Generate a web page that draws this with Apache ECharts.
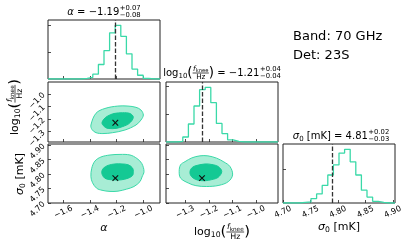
<!DOCTYPE html>
<html><head><meta charset="utf-8">
<script src="https://cdn.jsdelivr.net/npm/echarts@6/dist/echarts.min.js"></script>
<style>html,body{margin:0;padding:0;background:#fff}#c{width:411px;height:246px}</style>
</head><body><div id="c"></div>
<script>
// ---------- data ----------
const alphaRange = [-1.715, -0.875];
const fkneeRange = [-1.382, -0.906];
const sigmaRange = [4.700, 4.904];
const alphaTicks = [-1.6, -1.4, -1.2, -1.0];
const fkneeTicks = [-1.3, -1.2, -1.1, -1.0];
const sigmaTicks = [4.70, 4.75, 4.80, 4.85, 4.90];
const countTicks = [1000, 2000];
const alphaCounts = [0,0,0,0,0,0,20,60,180,540,1060,1720,2000,1590,940,370,140,25,0,0];
const fkneeCounts = [0,0,20,180,650,1300,1890,1970,1420,670,305,80,20,0,0,0,0,0,0,0];
const sigmaCounts = [0,0,0,16,32,130,270,520,830,1130,1480,1590,1220,830,380,175,50,16,0,0];
const alphaMark = -1.21, fkneeMark = -1.229, sigmaMark = 4.786;
const alphaTitle = ['\u22121.19', '+0.07', '\u22120.08'];
const fkneeTitle = ['\u22121.21', '+0.04', '\u22120.04'];
const sigmaTitle = ['4.81', '+0.02', '\u22120.03'];
const bandText = 'Band: 70 GHz';
const detText = 'Det: 23S';
// contours (outer 2-sigma, inner 1-sigma)
const afOuter = [[-1.393,-1.247],[-1.355,-1.154],[-1.288,-1.116],[-1.192,-1.097],[-1.115,-1.097],[-1.055,-1.107],[-1.018,-1.128],[-1.000,-1.168],[-1.018,-1.208],[-1.055,-1.247],[-1.138,-1.287],[-1.230,-1.308],[-1.303,-1.315],[-1.355,-1.308],[-1.385,-1.283]];
const afInner = [[-1.310,-1.234],[-1.295,-1.200],[-1.267,-1.176],[-1.220,-1.156],[-1.155,-1.150],[-1.100,-1.156],[-1.075,-1.186],[-1.105,-1.234],[-1.153,-1.259],[-1.205,-1.274],[-1.258,-1.275],[-1.285,-1.266]];
const asOuter = [[-1.387,4.820],[-1.363,4.845],[-1.318,4.859],[-1.250,4.866],[-1.175,4.868],[-1.100,4.866],[-1.048,4.854],[-1.012,4.837],[-0.995,4.809],[-1.010,4.790],[-1.025,4.774],[-1.070,4.757],[-1.125,4.748],[-1.190,4.741],[-1.250,4.740],[-1.310,4.744],[-1.350,4.751],[-1.381,4.770],[-1.393,4.791]];
const asInner = [[-1.312,4.806],[-1.300,4.820],[-1.265,4.830],[-1.213,4.835],[-1.160,4.835],[-1.113,4.832],[-1.081,4.821],[-1.075,4.809],[-1.081,4.795],[-1.113,4.786],[-1.168,4.780],[-1.225,4.780],[-1.276,4.783],[-1.300,4.791]];
const fsOuter = [[-1.326,4.809],[-1.320,4.832],[-1.301,4.843],[-1.272,4.856],[-1.238,4.863],[-1.204,4.863],[-1.167,4.855],[-1.136,4.842],[-1.110,4.826],[-1.099,4.797],[-1.117,4.774],[-1.157,4.761],[-1.209,4.757],[-1.255,4.760],[-1.287,4.769],[-1.320,4.786]];
const fsInner = [[-1.280,4.809],[-1.274,4.820],[-1.259,4.828],[-1.216,4.835],[-1.187,4.833],[-1.160,4.826],[-1.145,4.809],[-1.160,4.789],[-1.187,4.781],[-1.216,4.777],[-1.246,4.779],[-1.266,4.786],[-1.278,4.797]];

// ---------- styling ----------
const LINE = '#3ad9a8', OUTER = '#a8edd5', INNER = '#14c994', AX = '#222';
const FF = '"DejaVu Sans"';
const fmt = (v, d) => (v < 0 ? '\u2212' : '') + Math.abs(v).toFixed(d);

const panels = [ // left, top, width, height
  [48, 20, 112, 59],   // 0 alpha hist
  [48, 82, 112, 60],   // 1 alpha-fknee
  [166, 82, 112, 60],  // 2 fknee hist
  [48, 144, 112, 59],  // 3 alpha-sigma
  [166, 144, 112, 59], // 4 fknee-sigma
  [283, 144, 112, 59]  // 5 sigma hist
];
const grid = panels.map(p => ({left: p[0], top: p[1], width: p[2], height: p[3], show: true,
  borderColor: AX, borderWidth: 1, containLabel: false, outerBoundsMode: 'none'}));

function xAx(gi, range, ticks, lab, d) {
  return {type: 'value', gridIndex: gi, min: range[0], max: range[1],
    axisLine: {show: false}, splitLine: {show: false},
    axisTick: {show: true, inside: true, length: 3, lineStyle: {color: AX, width: 0.8}, customValues: ticks},
    axisLabel: {show: lab, customValues: ticks, rotate: 25, fontSize: 8, color: '#000', fontFamily: 'DejaVu Sans',
      margin: 9, align: 'center', verticalAlign: 'middle', formatter: v => fmt(v, d)}};
}
function yAx(gi, range, ticks, lab, d) {
  return {type: 'value', gridIndex: gi, min: range[0], max: range[1],
    axisLine: {show: false}, splitLine: {show: false},
    axisTick: {show: true, inside: true, length: 3, lineStyle: {color: AX, width: 0.8}, customValues: ticks},
    axisLabel: {show: lab, customValues: ticks, rotate: 45, fontSize: 8, color: '#000', fontFamily: 'DejaVu Sans',
      margin: 4, formatter: v => fmt(v, d)}};
}
const hmax = c => [0, Math.max.apply(null, c) * 1.1];

const xAxis = [
  xAx(0, alphaRange, alphaTicks, false, 1),
  xAx(1, alphaRange, alphaTicks, false, 1),
  xAx(2, fkneeRange, fkneeTicks, false, 1),
  xAx(3, alphaRange, alphaTicks, true, 1),
  xAx(4, fkneeRange, fkneeTicks, true, 1),
  xAx(5, sigmaRange, sigmaTicks, true, 2)
];
const yAxis = [
  yAx(0, hmax(alphaCounts), countTicks, false, 0),
  yAx(1, fkneeRange, fkneeTicks, true, 1),
  yAx(2, hmax(fkneeCounts), countTicks, false, 0),
  yAx(3, sigmaRange, sigmaTicks, true, 2),
  yAx(4, sigmaRange, sigmaTicks, false, 2),
  yAx(5, hmax(sigmaCounts), countTicks, false, 0)
];

function histSeries(gi, range, counts, mark) {
  const n = counts.length, w = (range[1] - range[0]) / n;
  const data = counts.map((c, i) => [range[0] + i * w, c]);
  data.push([range[1], counts[n - 1]]);
  return {type: 'line', xAxisIndex: gi, yAxisIndex: gi, step: 'end', data, symbol: 'none',
    lineStyle: {color: LINE, width: 1.3}, silent: true,
    markLine: {symbol: ['none', 'none'], silent: true, label: {show: false},
      lineStyle: {color: '#333', width: 1.3, type: [4.5, 2]}, data: [{xAxis: mark}]}};
}
function polySeries(gi, pts, fill, stroke) {
  return {type: 'custom', xAxisIndex: gi, yAxisIndex: gi, data: pts, silent: true,
    renderItem: (params, api) => {
      if (params.dataIndex !== 0) return null;
      return {type: 'polygon', shape: {points: pts.map(p => api.coord(p)), smooth: 0.35},
        style: {fill: fill, stroke: stroke, lineWidth: 1}};
    }};
}
function crossSeries(gi, pt) {
  return {type: 'custom', xAxisIndex: gi, yAxisIndex: gi, data: [pt], silent: true, z: 5,
    renderItem: (params, api) => {
      const c = api.coord([api.value(0), api.value(1)]), r = 2.8;
      const st = {stroke: '#111', lineWidth: 1.1};
      return {type: 'group', children: [
        {type: 'line', shape: {x1: c[0] - r, y1: c[1] - r, x2: c[0] + r, y2: c[1] + r}, style: st},
        {type: 'line', shape: {x1: c[0] - r, y1: c[1] + r, x2: c[0] + r, y2: c[1] - r}, style: st}]};
    }};
}

const series = [
  histSeries(0, alphaRange, alphaCounts, alphaMark),
  histSeries(2, fkneeRange, fkneeCounts, fkneeMark),
  histSeries(5, sigmaRange, sigmaCounts, sigmaMark),
  polySeries(1, afOuter, OUTER, LINE), polySeries(1, afInner, INNER, INNER),
  polySeries(3, asOuter, OUTER, LINE), polySeries(3, asInner, INNER, INNER),
  polySeries(4, fsOuter, OUTER, LINE), polySeries(4, fsInner, INNER, INNER),
  crossSeries(1, [alphaMark, fkneeMark]),
  crossSeries(3, [alphaMark, sigmaMark]),
  crossSeries(4, [fkneeMark, sigmaMark])
];

// ---------- math text via graphic ----------
const mctx = document.createElement('canvas').getContext('2d');
const fnt = (s, it) => (it ? 'italic ' : '') + s + 'px ' + FF;
const tw = (t, f) => { mctx.font = f; return mctx.measureText(t).width; };
function layout(tokens) {
  let x = 0; const items = [], lines = [];
  tokens.forEach(tk => {
    if (tk.num) {
      const n = layout(tk.num), d = layout(tk.den);
      const w = Math.max(n.w, d.w) + 1;
      n.items.forEach(it => items.push(Object.assign({}, it, {x: it.x + x + (w - n.w) / 2, y: it.y - tk.up})));
      d.items.forEach(it => items.push(Object.assign({}, it, {x: it.x + x + (w - d.w) / 2, y: it.y + tk.down})));
      lines.push({x1: x, x2: x + w, y: 0});
      x += w;
    } else if (tk.sup !== undefined) {
      const f = fnt(tk.size);
      items.push({x: x + 0.5, y: -tk.up, s: tk.sup, font: f});
      items.push({x: x + 0.5, y: tk.down, s: tk.sub, font: f});
      x += Math.max(tw(tk.sup, f), tw(tk.sub, f)) + 0.5;
    } else {
      const f = fnt(tk.size, tk.it);
      items.push({x: x, y: tk.dy || 0, s: tk.s, font: f});
      x += tw(tk.s, f);
    }
  });
  return {w: x, items, lines};
}
function mathText(tokens, cx, cy, rot) {
  const L = layout(tokens), ox = -L.w / 2;
  const children = L.items.map(it => ({type: 'text', x: ox + it.x, y: it.y,
    style: {text: it.s, font: it.font, fill: '#000', textAlign: 'left', textVerticalAlign: 'middle'}}));
  L.lines.forEach(l => children.push({type: 'line', shape: {x1: ox + l.x1, y1: l.y, x2: ox + l.x2, y2: l.y},
    style: {stroke: '#000', lineWidth: 0.7}}));
  return {type: 'group', x: cx, y: cy, rotation: rot || 0, silent: true, children};
}
const logTok = S => [{s: 'log', size: S}, {s: '10', size: S * 0.7, dy: S * 0.3}, {s: '(', size: S * 1.35},
  {num: [{s: 'f', size: S * 0.72, it: true}, {s: 'knee', size: S * 0.52, dy: S * 0.18}],
   den: [{s: 'Hz', size: S * 0.72}], up: S * 0.42, down: S * 0.46},
  {s: ')', size: S * 1.35}];
const sigTok = S => [{s: '\u03c3', size: S, it: true}, {s: '0', size: S * 0.7, dy: S * 0.3}, {s: ' [mK]', size: S}];
const scr = (v, S) => ({sup: v[1], sub: v[2], size: S * 0.68, up: S * 0.38, down: S * 0.36});

const graphic = [
  mathText([{s: '\u03b1', size: 10, it: true}, {s: ' = ' + alphaTitle[0], size: 10}, scr(alphaTitle, 10)], 104, 12),
  mathText(logTok(10).concat([{s: ' = ' + fkneeTitle[0], size: 10}, scr(fkneeTitle, 10)]), 222, 73),
  mathText(sigTok(10).concat([{s: ' = ' + sigmaTitle[0], size: 10}, scr(sigmaTitle, 10)]), 341, 136),
  mathText([{s: '\u03b1', size: 11, it: true}], 104, 228),
  mathText(logTok(11), 222, 232),
  mathText(sigTok(11), 339, 227),
  mathText(logTok(11), 15, 107, Math.PI / 2),
  mathText(sigTok(11), 20, 174, Math.PI / 2),
  {type: 'text', x: 293, y: 37, silent: true, style: {text: bandText, font: '13px ' + FF, fill: '#000', textAlign: 'left', textVerticalAlign: 'middle'}},
  {type: 'text', x: 293, y: 56, silent: true, style: {text: detText, font: '13px ' + FF, fill: '#000', textAlign: 'left', textVerticalAlign: 'middle'}}
];

const chart = echarts.init(document.getElementById('c'), null, {renderer: 'canvas'});
chart.setOption({animation: false, backgroundColor: '#fff', grid, xAxis, yAxis, series, graphic});
</script></body></html>
